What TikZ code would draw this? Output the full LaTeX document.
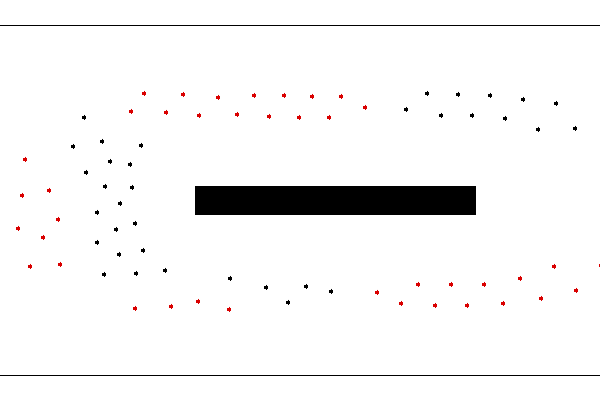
\documentclass[tikz,border=0pt]{standalone}
\usepackage{tikz}

\begin{document}
\begin{tikzpicture}[x=1pt,y=-1pt,
   wall/.style={line width=1pt,black},
   dotmark/.pic={\fill (-2,-1.2) rectangle (2,1.2); \draw[line width=0.9pt] (0,-2.6) -- (0,2.6);}]
   \useasboundingbox (0,0) rectangle (600,400);
   % channel walls and obstacle
   \draw[wall] (0,25.5) -- (600,25.5);
   \draw[wall] (0,375) -- (600,375);
   \fill[black] (195,186) rectangle (476,214.5);
   % red particles
   \foreach \x/\y in {144.3/93.3, 183.3/94.3, 218.3/97.3, 254.3/95.3, 284.3/95.3, 312.3/96.3,
       341.3/96.3, 365.3/107.3, 131.3/111.3, 166.3/112.3, 199.3/115.3, 237.3/114.3,
       269.3/116.3, 299.3/117.3, 329.3/117.3, 25.3/159.3, 49.3/190.3, 22.3/195.3,
       58.3/219.3, 18.3/228.3, 43.3/237.3, 30.3/266.3, 60.3/264.3, 135.3/308.3,
       171.3/306.3, 198.3/301.3, 229.3/309.3, 377.3/292.3, 401.3/303.3, 418.3/284.3,
       451.3/284.3, 484.3/284.3, 520.3/278.3, 554.3/266.3, 600.5/265.3, 435.3/305.3,
       467.3/305.3, 503.3/303.3, 541.3/298.3, 576.3/290.3}
      \pic[red!85!black] at (\x,\y) {dotmark};
   % black particles
   \foreach \x/\y in {84.3/117.3, 73.3/146.3, 102.3/141.3, 141.3/145.3, 110.3/161.3,
       130.3/164.3, 86.3/172.3, 105.3/186.3, 132.3/187.3, 120.3/203.3, 97.3/212.3,
       135.3/223.3, 116.3/229.3, 97.3/242.3, 119.3/254.3, 143.3/250.3, 104.3/274.3,
       136.3/273.3, 165.3/270.3, 230.3/278.3, 266.3/287.3, 306.3/286.3, 331.3/291.3,
       288.3/302.3, 427.3/93.3, 458.3/94.3, 490.3/95.3, 523.3/99.3, 556.3/103.3,
       406.3/109.3, 441.3/115.3, 472.3/115.3, 505.3/118.3, 538.3/129.3, 575.3/128.3}
      \pic[black] at (\x,\y) {dotmark};
\end{tikzpicture}
\end{document}
